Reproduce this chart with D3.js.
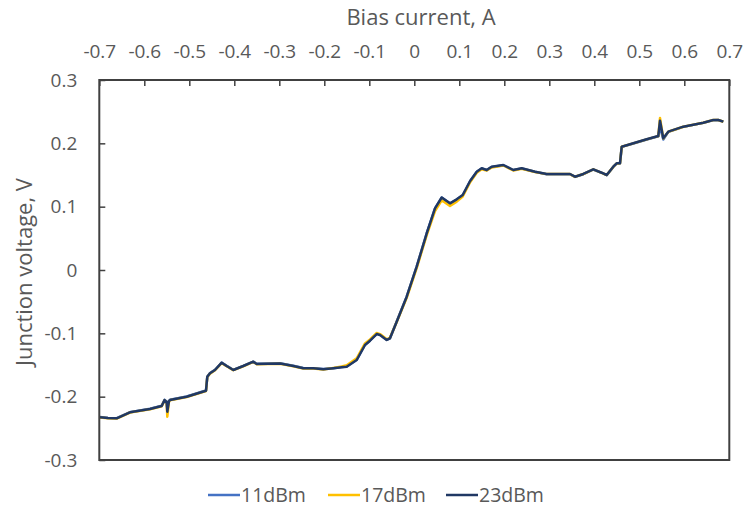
<!DOCTYPE html>
<html>
<head>
<meta charset="utf-8">
<script src="https://cdn.jsdelivr.net/npm/d3@7"></script>
<style>
  html, body { margin: 0; padding: 0; background: #fff; }
  svg { display: block; font-family: "Open Sans", "Noto Sans", sans-serif; }
  .tick text { fill: #595959; }
</style>
</head>
<body>
<svg id="chart" width="746" height="512"></svg>
<script>
// Bias current sweep (A), shared by all three drive levels
const current = [
  -0.6984, -0.6807, -0.6613, -0.6318, -0.5873, -0.5613, -0.5549, -0.5504, -0.5489, -0.5451,
  -0.5429, -0.5058, -0.4629, -0.4600, -0.4540, -0.4429, -0.4280, -0.4169, -0.4022, -0.3800,
  -0.3578, -0.3502, -0.2984, -0.2689, -0.2467, -0.2244, -0.2022, -0.1800, -0.1613, -0.1502,
  -0.1280, -0.1096, -0.0984, -0.0836, -0.0762, -0.0613, -0.0540, -0.0391, -0.0169, 0.0053,
  0.0276, 0.0460, 0.0609, 0.0793, 0.0942, 0.1076, 0.1240, 0.1387, 0.1498, 0.1609,
  0.1720, 0.1978, 0.2200, 0.2387, 0.2682, 0.2942, 0.3238, 0.3460, 0.3571, 0.3756,
  0.3978, 0.4164, 0.4276, 0.4422, 0.4498, 0.4571, 0.4609, 0.4867, 0.5164, 0.5422,
  0.5460, 0.5533, 0.5644, 0.5978, 0.6422, 0.6644, 0.6756, 0.6867
];

// Junction voltage (V) at 11 dBm
const v11 = [
  -0.2322, -0.2335, -0.2340, -0.2245, -0.2190, -0.2142, -0.2050, -0.2080, -0.2180, -0.2066,
  -0.2050, -0.1998, -0.1903, -0.1682, -0.1628, -0.1575, -0.1462, -0.1514, -0.1576, -0.1513,
  -0.1446, -0.1481, -0.1474, -0.1513, -0.1548, -0.1550, -0.1565, -0.1550, -0.1533, -0.1524,
  -0.1418, -0.1180, -0.1113, -0.1008, -0.1022, -0.1102, -0.1075, -0.0813, -0.0420, 0.0054,
  0.0580, 0.0972, 0.1143, 0.1050, 0.1112, 0.1180, 0.1402, 0.1549, 0.1604, 0.1577,
  0.1628, 0.1655, 0.1578, 0.1603, 0.1550, 0.1512, 0.1510, 0.1512, 0.1470, 0.1512,
  0.1587, 0.1533, 0.1498, 0.1628, 0.1682, 0.1683, 0.1944, 0.1998, 0.2061, 0.2113,
  0.2260, 0.2060, 0.2180, 0.2260, 0.2323, 0.2366, 0.2367, 0.2340
];

// Junction voltage (V) at 17 dBm
const v17 = [
  -0.2330, -0.2340, -0.2345, -0.2250, -0.2198, -0.2150, -0.2058, -0.2090, -0.2316, -0.2075,
  -0.2058, -0.2005, -0.1910, -0.1690, -0.1636, -0.1583, -0.1470, -0.1520, -0.1582, -0.1520,
  -0.1452, -0.1488, -0.1480, -0.1520, -0.1555, -0.1556, -0.1572, -0.1548, -0.1525, -0.1505,
  -0.1395, -0.1160, -0.1095, -0.0995, -0.1012, -0.1095, -0.1070, -0.0822, -0.0440, 0.0030,
  0.0550, 0.0930, 0.1100, 0.1010, 0.1080, 0.1160, 0.1385, 0.1535, 0.1590, 0.1570,
  0.1620, 0.1650, 0.1572, 0.1600, 0.1548, 0.1514, 0.1514, 0.1514, 0.1472, 0.1515,
  0.1588, 0.1534, 0.1500, 0.1628, 0.1682, 0.1684, 0.1945, 0.2000, 0.2063, 0.2114,
  0.2400, 0.2078, 0.2182, 0.2262, 0.2325, 0.2368, 0.2368, 0.2341
];

// Junction voltage (V) at 23 dBm
const v23 = [
  -0.2326, -0.2337, -0.2342, -0.2247, -0.2195, -0.2147, -0.2053, -0.2084, -0.2237, -0.2069,
  -0.2053, -0.2001, -0.1906, -0.1685, -0.1631, -0.1579, -0.1464, -0.1516, -0.1579, -0.1516,
  -0.1448, -0.1484, -0.1476, -0.1516, -0.1552, -0.1552, -0.1568, -0.1552, -0.1536, -0.1527,
  -0.1421, -0.1184, -0.1116, -0.1011, -0.1026, -0.1105, -0.1078, -0.0816, -0.0422, 0.0052,
  0.0580, 0.0974, 0.1145, 0.1053, 0.1116, 0.1184, 0.1405, 0.1552, 0.1606, 0.1579,
  0.1631, 0.1658, 0.1579, 0.1606, 0.1552, 0.1516, 0.1516, 0.1516, 0.1473, 0.1516,
  0.1590, 0.1536, 0.1500, 0.1631, 0.1685, 0.1685, 0.1947, 0.2001, 0.2064, 0.2116,
  0.2357, 0.2080, 0.2184, 0.2263, 0.2326, 0.2369, 0.2369, 0.2342
];

const seriesNames = ["11dBm", "17dBm", "23dBm"];
const seriesColors = ["#4472C4", "#FFC000", "#203864"];
const seriesValues = [v11, v17, v23];

const xTicks = [-0.7, -0.6, -0.5, -0.4, -0.3, -0.2, -0.1, 0, 0.1, 0.2, 0.3, 0.4, 0.5, 0.6, 0.7];
const yTicks = [-0.3, -0.2, -0.1, 0, 0.1, 0.2, 0.3];

const svg = d3.select("#chart");
const plotL = 99.3, plotR = 729.3, plotT = 80, plotB = 460;

const x = d3.scaleLinear().domain([-0.7, 0.7]).range([plotL, plotR]);
const y = d3.scaleLinear().domain([-0.3, 0.3]).range([plotB, plotT]);

// Plain hyphen-minus labels, "0" without decimals
const fmt = d => (Math.abs(d) < 1e-9 ? "0" : d.toFixed(1));

// Horizontal axis along the top edge, ticks pointing into the plot
const xAxis = svg.append("g")
  .attr("transform", `translate(0,${plotT})`)
  .call(d3.axisTop(x).tickValues(xTicks).tickSize(-6).tickPadding(22).tickFormat(fmt));
xAxis.select(".domain").remove();
xAxis.selectAll(".tick line").attr("stroke", "#404040").attr("stroke-width", 1.5);
xAxis.selectAll(".tick text").style("font-size", "19px").attr("font-family", null);

// Vertical axis on the left edge
const yAxis = svg.append("g")
  .attr("transform", `translate(${plotL},0)`)
  .call(d3.axisLeft(y).tickValues(yTicks).tickSize(-6).tickPadding(22).tickFormat(fmt));
yAxis.select(".domain").remove();
yAxis.selectAll(".tick line").attr("stroke", "#404040").attr("stroke-width", 1.5);
yAxis.selectAll(".tick text").style("font-size", "19px");
xAxis.attr("font-family", null).attr("font-size", null);
yAxis.attr("font-family", null).attr("font-size", null);

// Curves: 11 dBm at the bottom, 23 dBm drawn last
const line = d3.line().x((d, i) => x(current[i])).y(d => y(d));
seriesValues.forEach((vals, k) => {
  svg.append("path")
    .datum(vals)
    .attr("fill", "none")
    .attr("stroke", seriesColors[k])
    .attr("stroke-width", 2.5)
    .attr("stroke-linejoin", "round")
    .attr("d", line);
});

// Plot frame
svg.append("rect")
  .attr("x", plotL).attr("y", plotT)
  .attr("width", plotR - plotL).attr("height", plotB - plotT)
  .attr("fill", "none").attr("stroke", "#404040").attr("stroke-width", 2);

// Axis titles
svg.append("text")
  .attr("x", 421).attr("y", 25)
  .attr("text-anchor", "middle")
  .attr("fill", "#595959")
  .style("font-size", "22px")
  .text("Bias current, A");

svg.append("text")
  .attr("transform", "translate(32,272) rotate(-90)")
  .attr("text-anchor", "middle")
  .attr("fill", "#595959")
  .style("font-size", "22px")
  .text("Junction voltage, V");

// Legend
const legendX = [208, 328, 446];
const legend = svg.append("g");
seriesNames.forEach((name, k) => {
  const g = legend.append("g").attr("transform", `translate(${legendX[k]},495)`);
  g.append("line").attr("x1", 0).attr("x2", 32).attr("y1", 0).attr("y2", 0)
    .attr("stroke", seriesColors[k]).attr("stroke-width", 2.5);
  g.append("text").attr("x", 33).attr("y", 0).attr("dy", "0.36em")
    .attr("fill", "#595959").style("font-size", "19.5px").text(name);
});
</script>
</body>
</html>
